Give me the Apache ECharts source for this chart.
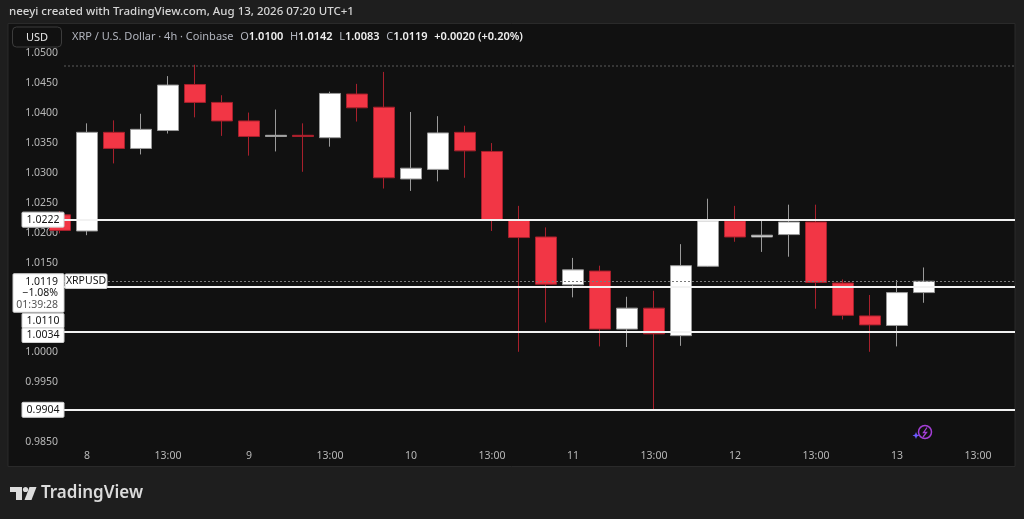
<!DOCTYPE html>
<html>
<head>
<meta charset="utf-8">
<script src="https://cdn.jsdelivr.net/npm/echarts@6/dist/echarts.min.js"></script>
<style>
  html, body { margin: 0; padding: 0; background: #1e1e1e; }
  #chart { width: 1024px; height: 519px; }
</style>
</head>
<body>
<div id="chart"></div>
<script>
// XRP / USD, 4h candles (index 0 = Aug 7 21:00, index 1 = Aug 8 01:00 ...)
const openPrices  = [1.0230, 1.0203, 1.0368, 1.0341, 1.0371, 1.0448, 1.0418, 1.0387, 1.0361, 1.0363, 1.0359,
                     1.0432, 1.0410, 1.0290, 1.0306, 1.0368, 1.0336, 1.0221, 1.0193, 1.0113, 1.0136, 1.0039,
                     1.0074, 1.0028, 1.0144, 1.0220, 1.0193, 1.0197, 1.0218, 1.0116, 1.0061, 1.0045, 1.0100];
const highPrices  = [1.0236, 1.0383, 1.0388, 1.0399, 1.0462, 1.0481, 1.0430, 1.0401, 1.0406, 1.0383, 1.0436,
                     1.0449, 1.0469, 1.0402, 1.0395, 1.0379, 1.0350, 1.0245, 1.0209, 1.0158, 1.0145, 1.0093,
                     1.0103, 1.0181, 1.0257, 1.0245, 1.0221, 1.0247, 1.0247, 1.0122, 1.0096, 1.0121, 1.0142];
const lowPrices   = [1.0199, 1.0196, 1.0316, 1.0331, 1.0366, 1.0393, 1.0362, 1.0329, 1.0336, 1.0302, 1.0344,
                     1.0386, 1.0274, 1.0270, 1.0286, 1.0292, 1.0203, 1.0001, 1.0050, 1.0092, 1.0010, 1.0009,
                     0.9904, 1.0011, 1.0143, 1.0185, 1.0168, 1.0160, 1.0073, 1.0055, 1.0001, 1.0010, 1.0083];
const closePrices = [1.0204, 1.0368, 1.0341, 1.0373, 1.0447, 1.0418, 1.0387, 1.0361, 1.0363, 1.0361, 1.0433,
                     1.0409, 1.0292, 1.0308, 1.0367, 1.0337, 1.0222, 1.0192, 1.0114, 1.0138, 1.0039, 1.0074,
                     1.0031, 1.0145, 1.0220, 1.0193, 1.0196, 1.0218, 1.0117, 1.0062, 1.0046, 1.0100, 1.0119];

// x axis ticks (candle index) and their labels
const tickIndex  = [1, 4, 7, 10, 13, 16, 19, 22, 25, 28, 31, 34];
const tickLabels = ['8', '13:00', '9', '13:00', '10', '13:00', '11', '13:00', '12', '13:00', '13', '13:00'];

// horizontal levels drawn on the chart
const levelLines = [1.0222, 1.0110, 1.0034, 0.9904];
const lastPrice = 1.0119;
const topDotted = 1.0479;
const changeText = '+0.0020 (+0.20%)';
const pctText = '\u22121.08%';
const countdownText = '01:39:28';
const symbolText = 'XRPUSD';

const FONT = '"Noto Sans", "Liberation Sans", sans-serif';

const chart = echarts.init(document.getElementById('chart'));

const candles = openPrices.map((o, i) => [i, o, closePrices[i], lowPrices[i], highPrices[i]]);

const markData = levelLines.map(v => ({
  yAxis: v,
  lineStyle: { color: '#f2f2f2', width: 2, type: 'solid' }
}));
markData.push({ yAxis: lastPrice, lineStyle: { color: '#7a7a7a', width: 1, type: [2, 2] } });
markData.push({ yAxis: topDotted, lineStyle: { color: '#363636', width: 2, type: [2, 2] } });

chart.setOption({
  backgroundColor: 'transparent',
  animation: false,
  grid: { left: 64, right: 9, top: 44.4, bottom: 76.9 },
  xAxis: {
    type: 'value',
    min: 4 / 27,
    max: 955 / 27,
    splitLine: { show: false },
    axisLine: { show: false },
    axisTick: { show: false },
    axisLabel: {
      customValues: tickIndex,
      color: '#b8b8b8',
      fontSize: 10.5,
      fontFamily: FONT,
      margin: 8,
      formatter: v => {
        const k = tickIndex.indexOf(Math.round(v));
        return k >= 0 ? tickLabels[k] : '';
      }
    }
  },
  yAxis: {
    type: 'value',
    min: 0.985,
    max: 1.0515,
    interval: 0.005,
    splitLine: { show: false },
    axisLine: { show: false },
    axisTick: { show: false },
    axisLabel: {
      color: '#b8b8b8',
      fontSize: 10.5,
      fontFamily: FONT,
      margin: 6,
      showMaxLabel: false,
      formatter: v => v.toFixed(4)
    }
  },
  series: [{
    type: 'candlestick',
    data: candles,
    encode: { x: 0, y: [1, 2, 3, 4] },
    barWidth: 21,
    itemStyle: {
      color: '#ffffff',
      borderColor: '#9a9a9a',
      color0: '#f23645',
      borderColor0: '#a8202c',
      borderWidth: 1
    },
    markLine: {
      silent: true,
      symbol: 'none',
      precision: 4,
      label: { show: false },
      data: markData
    }
  }]
});

// ---- overlay labels, tied to the y scale ----
const py = v => chart.convertToPixel({ yAxisIndex: 0 }, v);
const g = [];

function priceBox(x, yc, w, h, text, z) {
  g.push({ type: 'rect', z: z || 100, shape: { x: x, y: yc - h / 2, width: w, height: h, r: 1 },
           style: { fill: '#ffffff', stroke: '#d0d0d0', lineWidth: 1 } });
  g.push({ type: 'text', z: (z || 100) + 1, x: x + w / 2, y: yc,
           style: { text: text, fill: '#131313', font: '10.5px ' + FONT, align: 'center', verticalAlign: 'middle' } });
}

// panel background
g.push({ type: 'rect', z: -10, shape: { x: 8, y: 23.5, width: 1007, height: 443 },
         style: { fill: '#111111', stroke: '#2a2a2a', lineWidth: 1 } });

// level labels
priceBox(22, py(levelLines[0]), 42, 15, levelLines[0].toFixed(4));
priceBox(22, py(levelLines[3]), 42, 15, levelLines[3].toFixed(4));

// last price stack
const yLast = py(lastPrice);
const stackTop = yLast - 7.5;
g.push({ type: 'rect', z: 100, shape: { x: 13, y: stackTop, width: 51, height: 38.5, r: 1 },
         style: { fill: '#ffffff', stroke: '#d0d0d0', lineWidth: 1 } });
g.push({ type: 'text', z: 101, x: 58, y: stackTop + 8,
         style: { text: lastPrice.toFixed(4), fill: '#131313', font: '10.5px ' + FONT, align: 'right', verticalAlign: 'middle' } });
g.push({ type: 'text', z: 101, x: 58, y: stackTop + 19.5,
         style: { text: pctText, fill: '#131313', font: '10.5px ' + FONT, align: 'right', verticalAlign: 'middle' } });
g.push({ type: 'text', z: 101, x: 58, y: stackTop + 31,
         style: { text: countdownText, fill: '#555555', font: '10.5px ' + FONT, align: 'right', verticalAlign: 'middle' } });
priceBox(22, stackTop + 47, 42, 14.5, levelLines[1].toFixed(4));
priceBox(22, stackTop + 61.5, 42, 14.5, levelLines[2].toFixed(4));

// symbol tag
priceBox(65, yLast, 42, 14.5, symbolText);

// header
g.push({ type: 'text', z: 50, x: 9, y: 12,
         style: { text: 'neeyi created with TradingView.com, Aug 13, 2026 07:20 UTC+1', fill: '#d6d6d6',
                  font: '500 11.5px ' + FONT, align: 'left', verticalAlign: 'middle' } });

// legend
g.push({ type: 'rect', z: 50, shape: { x: 12.5, y: 27, width: 49, height: 20, r: 4 },
         style: { fill: '#111111', stroke: '#3c3c3c', lineWidth: 1 } });
g.push({ type: 'text', z: 51, x: 37, y: 37.5,
         style: { text: 'USD', fill: '#e8e8e8', font: '11px ' + FONT, align: 'center', verticalAlign: 'middle' } });
const last = openPrices.length - 1;
g.push({ type: 'text', z: 51, x: 72, y: 37,
         style: {
           text: '{g|XRP / U.S. Dollar \u00b7 4h \u00b7 Coinbase}  {g|O}{w|' + openPrices[last].toFixed(4) + '}  {g|H}{w|' +
                 highPrices[last].toFixed(4) + '}  {g|L}{w|' + lowPrices[last].toFixed(4) + '}  {g|C}{w|' +
                 closePrices[last].toFixed(4) + '}  {w|' + changeText + '}',
           align: 'left', verticalAlign: 'middle',
           rich: {
             g: { fill: '#b2b5be', font: '11px ' + FONT },
             w: { fill: '#f0f0f0', font: '600 11px ' + FONT }
           }
         } });

// lightning badge
g.push({ type: 'circle', z: 50, shape: { cx: 925, cy: 432, r: 6.5 },
         style: { fill: 'none', stroke: '#a43fd6', lineWidth: 1.5 } });
g.push({ type: 'polyline', z: 51, shape: { points: [[927, 427.5], [923.5, 432.5], [926.5, 432.5], [923, 437]] },
         style: { fill: 'none', stroke: '#a43fd6', lineWidth: 1.3 } });
g.push({ type: 'polygon', z: 52, shape: { points: [[916, 432], [917, 434.5], [919.5, 435.5], [917, 436.5], [916, 439], [915, 436.5], [912.5, 435.5], [915, 434.5]] },
         style: { fill: '#6a5cff' } });

// TradingView logo
g.push({ type: 'rect', z: 50, shape: { x: 10, y: 487, width: 12, height: 5 }, style: { fill: '#dcdcdc' } });
g.push({ type: 'rect', z: 50, shape: { x: 16, y: 487, width: 6, height: 13 }, style: { fill: '#dcdcdc' } });
g.push({ type: 'circle', z: 50, shape: { cx: 25.5, cy: 489.5, r: 2.6 }, style: { fill: '#dcdcdc' } });
g.push({ type: 'polygon', z: 50, shape: { points: [[29.5, 487], [36.5, 487], [31.5, 500], [24.5, 500]] }, style: { fill: '#dcdcdc' } });
g.push({ type: 'text', z: 50, x: 41, y: 493,
         style: { text: 'TradingView', fill: '#dcdcdc', font: '600 17px ' + FONT, align: 'left', verticalAlign: 'middle' } });

chart.setOption({ graphic: g });
</script>
</body>
</html>
